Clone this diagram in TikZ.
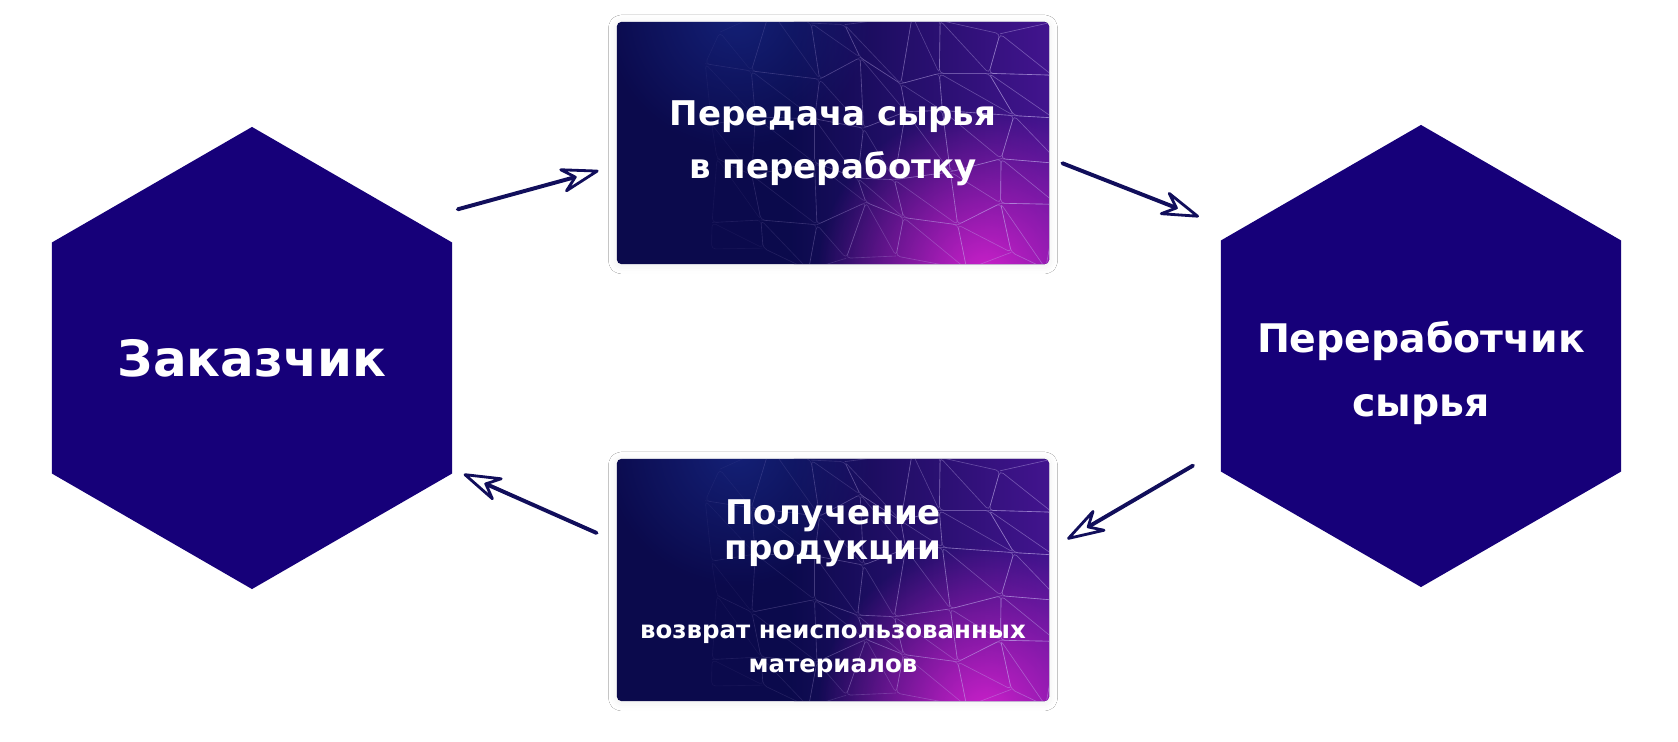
\documentclass[tikz,border=0pt]{standalone}
\usepackage{fontspec}
\setmainfont{DejaVu Sans}
\usetikzlibrary{calc,arrows.meta,shapes.geometric,fadings,shadows.blur}
\definecolor{hexfill}{HTML}{160079}
\definecolor{arrowc}{HTML}{110E5B}
\definecolor{navy}{HTML}{0B0A4C}
\definecolor{violet}{HTML}{42148E}
\definecolor{glowpink}{HTML}{D521CF}
\definecolor{glowblue}{HTML}{1F3CAA}
\definecolor{meshc}{HTML}{C4B2EE}
\tikzfading[name=glowfade, inner color=transparent!0, outer color=transparent!100]
% card background: gradient, two glows and a faint mesh
\newcommand\cardbg{%
  \fill[navy] (path picture bounding box.south west) rectangle (path picture bounding box.north east);
  \shade[left color=navy, right color=violet]
    ($(path picture bounding box.south west)!0.4!(path picture bounding box.south east)$)
    rectangle (path picture bounding box.north east);
  \fill[glowblue, path fading=glowfade, opacity=0.45]
    ($(path picture bounding box.north west)+(3.0cm,0.2cm)$) circle (3.4cm);
  \fill[glowpink, path fading=glowfade, opacity=0.95]
    ($(path picture bounding box.south east)+(-1.6cm,-0.3cm)$) circle (4.2cm);
  \pgfmathsetseed{42}
  \foreach \i in {0,...,9}{\foreach \j in {0,...,5}{
    \coordinate (mp-\i-\j) at ($(path picture bounding box.north west)+(\i*1.2cm+0.35cm*rand,-\j*1.2cm+0.35cm*rand)$);}}
  \foreach \i in {2,...,8}{\foreach \j in {0,...,4}{
    \pgfmathtruncatemacro\ii{\i+1}\pgfmathtruncatemacro\jj{\j+1}
    \pgfmathsetmacro\op{0.06*(\i-1)}
    \draw[meshc, line width=0.45pt, opacity=\op] (mp-\i-\j) -- (mp-\ii-\j) -- (mp-\ii-\jj) -- (mp-\i-\j) -- (mp-\i-\jj) -- (mp-\ii-\jj);
  }}%
}
\tikzset{
  hex/.style={regular polygon, regular polygon sides=6, shape border rotate=30, minimum size=11.55cm, inner sep=0pt, fill=hexfill},
  lab/.style={text=white, align=center, font=\bfseries\fontsize{35.5}{42}\selectfont},
  labs/.style={text=white, align=center, font=\bfseries\fontsize{28}{45}\selectfont},
  card/.style={rectangle, rounded corners=3pt, minimum width=10.8cm, minimum height=6.05cm, inner sep=0pt,
    text=white, align=center, font=\bfseries\fontsize{24.2}{37.7}\selectfont,
    blur shadow={shadow xshift=0pt, shadow yshift=-1pt, shadow blur radius=6pt, shadow opacity=7},
    path picture={\cardbg}},
  ttl/.style={text=white, align=center, font=\bfseries\fontsize{24.2}{25}\selectfont},
  sub/.style={text=white, align=center, font=\bfseries\fontsize{17.4}{24}\selectfont},
  flow/.style={draw=arrowc, line width=2.8pt, line cap=round,
    -{Stealth[open, round, length=32pt, width=20pt, inset=11pt, line width=2pt]}},
}
\begin{document}
\begin{tikzpicture}[x=0.025cm, y=-0.025cm]
  \fill[white] (0,0) rectangle (1678,742);
  % the two parties
  \node[hex] (zak) at (252,358) {};
  \node[hex] (per) at (1421,356) {};
  \node[lab] (zaklab) at (zak) {Заказчик};
  \node[labs] (perlab) at ($(per)+(0,17)$) {Переработчик\\сырья};
  % the two steps
  \node[card] (box1) at (833,143) {Передача сырья\\в переработку};
  \node[card] (box2) at (833,580) {};
  \node[ttl] (ttl2) at ($(box2)+(0,-47)$) {Получение\\продукции};
  \node[sub] (sub2) at ($(box2)+(0,71)$) {возврат неиспользованных\\материалов};
  % flows
  \draw[flow, shorten <=1.1cm, shorten >=0.47cm] (zak.40) -- (box1.186);
  \draw[flow, shorten <=0.35cm, shorten >=1.0cm] (box1.-4) -- (per.146);
  \draw[flow, shorten <=0.8cm, shorten >=0.52cm] (per.205) -- (box2.8);
  \draw[flow, shorten <=0.55cm, shorten >=0.31cm] (box2.170) -- (zak.-29);
\end{tikzpicture}
\end{document}
